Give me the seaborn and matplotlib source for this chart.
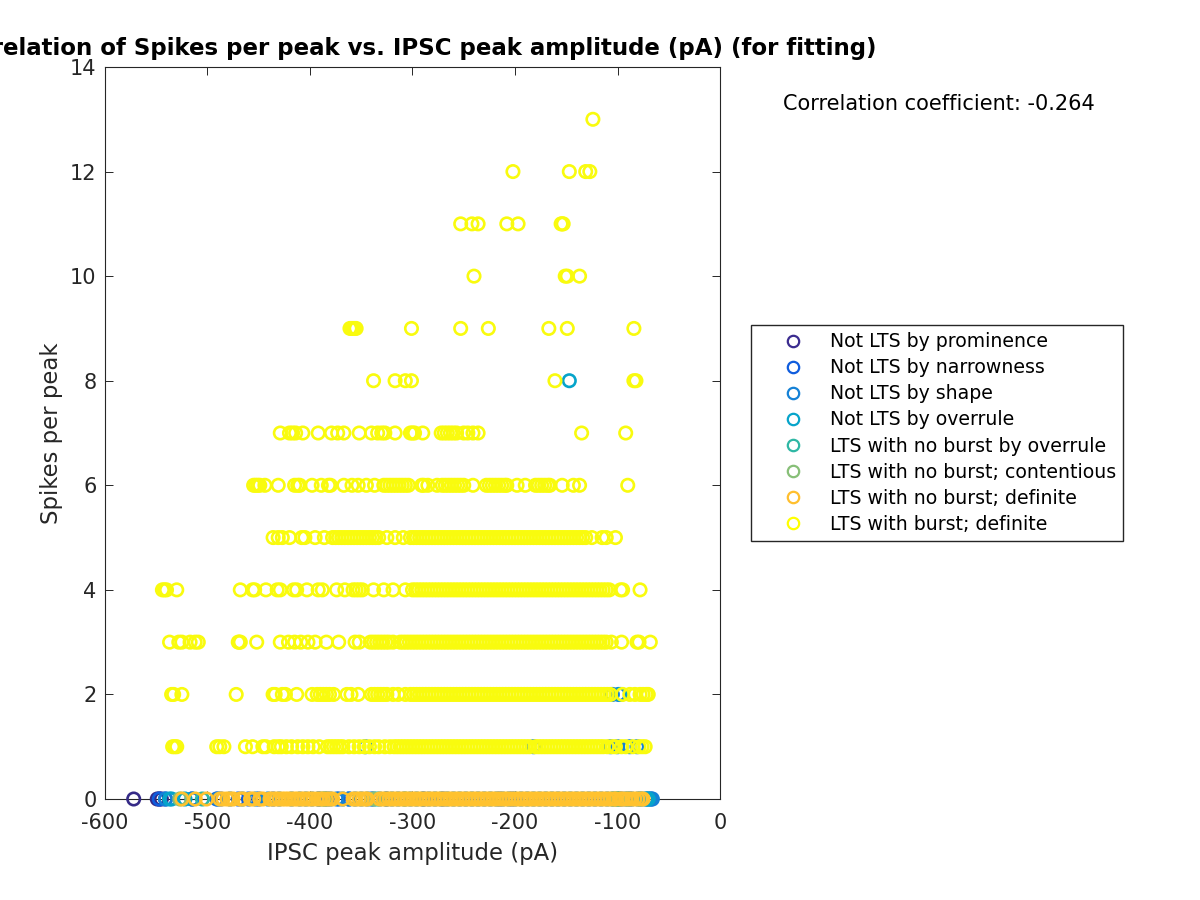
import pandas as pd
import matplotlib
matplotlib.use('Agg')
import matplotlib.pyplot as plt
import seaborn as sns

# Class names and colours (legend order, also the drawing order)
class_names = ['Not LTS by prominence', 'Not LTS by narrowness', 'Not LTS by shape', 'Not LTS by overrule',
               'LTS with no burst by overrule', 'LTS with no burst; contentious', 'LTS with no burst; definite',
               'LTS with burst; definite']
class_colors = ['#352A87', '#0F5CDD', '#1481D6', '#06A4CA', '#2EB7A4', '#87BF77', '#FFC22E', '#F9FB0E']
legend_colors = ['#3B2C8F', '#0F5CDD', '#1481D6', '#06A4CA', '#2EB7A4', '#87BF77', '#FFBF2E', '#FFFF00']

# Spikes = 0, the lower classes
prominence_x = [-572, -549, -547, -545]
narrowness_x = [-547, -541, -515, -491, -487, -470, -460, -450, -436, -391, -383, -372, -362, -340, -325, -289,
                -270, -215, -203, -100, -96, -88]
shape_x = [-541, -515, -490, -478, -466, -453, -441, -430, -418,
           -410, -404, -398, -392, -386, -380, -374, -368, -362, -356, -350, -344, -338, -332, -326, -320, -314,
           -308, -302, -296, -290, -284, -278, -272, -266, -260, -254, -248, -242, -236, -230, -224, -218, -212,
           -206, -200, -194, -188, -182, -176, -170, -164, -158, -152, -146, -140, -134, -128, -122, -116, -110,
           -104, -98, -92, -86, -80, -76, -72, -70, -68, -67, -66]
overrule_x = [-537, -535, -522, -105, -90, -78, -72, -70]
no_burst_overrule_x = [-505, -385, -335, -100]
contentious_x = [-527, -388, -338, -307, -101, -99]
definite_x = [-525, -512, -501, -488, -485, -481, -478, -475, -468, -465, -458, -455, -449, -446, -439, -436, -433,
              -430, -427, -424, -421, -418, -415, -412, -409, -406, -403, -400, -397, -393, -390, -387, -384,
              -381, -378, -368, -358, -355, -352, -349, -346, -344, -332, -329, -326, -323, -320, -317, -314,
              -311, -308, -305, -302, -299, -296, -293, -290, -287, -284, -281, -278, -275, -272, -269, -266,
              -263, -260, -257, -254, -251, -248, -245, -242, -239, -236, -233, -230, -227, -224, -221, -218,
              -215, -212, -209, -206, -203, -200, -197, -194, -191, -188, -185, -182, -179, -176, -173, -170,
              -167, -164, -161, -158, -155, -152, -149, -146, -143, -140, -137, -134, -131, -128, -125, -122,
              -119, -116, -113, -110, -107, -104, -102, -97, -95, -92, -89, -86, -83, -80, -77, -75]

# A few lower-class points above zero spikes
shape_spikes1_x = [-346, -182, -107, -100, -88, -81]
shape_spikes2_x = [-105, -99]
overrule_spikes2_x = [-97]
overrule_spikes8_x = [-147]

# LTS with burst, one list per spike count
burst_13 = [-124]
burst_12 = [-202, -147, -131, -127]
burst_11 = [-253, -242, -236, -208, -197, -155, -154, -153]
burst_10 = [-240, -151, -149, -137]
burst_9 = [-361, -359, -357, -355, -301, -253, -226, -167, -149, -84]
burst_8 = [-338, -317, -307, -301, -161, -84, -82]
burst_7 = [-429, -420, -417, -414, -407, -392, -379, -373, -367, -352, -340, -334, -330, -327, -317, -302, -300,
           -298, -290, -272, -269, -266, -263, -260, -257, -250, -246, -241, -236, -135, -92]
burst_6 = [-455, -453, -451, -449, -444, -431, -415, -412, -410, -398, -389, -382, -380, -367, -359, -353, -345,
           -337, -328, -325, -322, -319, -316, -313, -310, -307, -304, -291, -289, -285, -276, -271, -268, -265,
           -262, -259, -256, -253, -250, -241, -228, -225, -222, -219, -216, -213, -210, -208, -198, -190, -180,
           -177, -174, -171, -168, -166, -154, -143, -137, -90]
burst_5 = [-436, -431, -427, -420, -408, -405, -395, -386, -378, -375, -372, -369, -366, -363, -360, -357, -354,
           -351, -348, -345, -342, -339, -336, -333, -325, -317, -309, -302, -299, -296, -293, -290, -287, -284,
           -281, -278, -275, -272, -269, -266, -263, -260, -257, -254, -251, -248, -245, -242, -239, -236, -233,
           -230, -227, -224, -221, -218, -215, -212, -209, -206, -203, -200, -197, -194, -191, -188, -185, -182,
           -179, -176, -173, -170, -167, -164, -161, -158, -155, -152, -149, -146, -143, -140, -137, -134, -131,
           -125, -115, -111, -102]
burst_4 = [-544, -542, -540, -530, -468, -456, -454, -443, -432, -429, -416, -413, -403, -392, -388, -374, -366,
           -358, -355, -352, -349, -338, -328, -319, -307, -300, -297, -294, -291, -288, -285, -282, -279, -276,
           -273, -270, -267, -264, -261, -258, -255, -252, -249, -246, -243, -240, -237, -234, -231, -228, -225,
           -222, -219, -216, -213, -210, -207, -204, -201, -198, -195, -192, -189, -186, -183, -180, -177, -174,
           -171, -168, -165, -162, -159, -156, -153, -150, -147, -144, -141, -138, -135, -132, -129, -126, -123,
           -120, -117, -114, -111, -108, -97, -95, -78]
burst_3 = [-537, -528, -525, -517, -512, -509, -470, -469, -468, -452, -429, -421, -415, -409, -402, -395, -384,
           -372, -356, -352, -341, -338, -335, -332, -329, -326, -323, -319, -312, -309, -306, -303, -300, -297,
           -294, -291, -288, -285, -282, -279, -276, -273, -270, -267, -264, -261, -258, -255, -252, -249, -246,
           -243, -240, -237, -234, -231, -228, -225, -222, -219, -216, -213, -210, -207, -204, -201, -198, -195,
           -192, -189, -186, -183, -180, -177, -174, -171, -168, -165, -162, -159, -156, -153, -150, -147, -144,
           -141, -138, -135, -132, -129, -126, -123, -120, -117, -114, -111, -106, -96, -81, -79, -68]
burst_2 = [-535, -533, -525, -472, -436, -434, -427, -424, -413, -398, -393, -390, -387, -384, -381, -377, -364,
           -360, -353, -340, -337, -334, -331, -328, -325, -319, -314, -307, -302, -299, -296, -293, -290, -287,
           -284, -281, -278, -275, -272, -269, -266, -263, -260, -257, -254, -251, -248, -245, -242, -239, -236,
           -233, -230, -227, -224, -221, -218, -215, -212, -209, -206, -203, -200, -197, -194, -191, -188, -185,
           -182, -179, -176, -173, -170, -167, -164, -161, -158, -155, -152, -149, -146, -143, -140, -137, -134,
           -131, -128, -125, -122, -119, -116, -113, -110, -107, -95, -88, -83, -78, -75, -72, -70]
burst_1 = [-534, -532, -530, -491, -488, -484, -463, -456, -446, -443, -435, -431, -428, -423, -418, -412, -407,
           -402, -397, -391, -383, -380, -377, -374, -371, -368, -362, -357, -352, -347, -342, -337, -333, -327,
           -322, -318, -315, -312, -309, -306, -303, -300, -297, -294, -291, -288, -285, -282, -279, -276, -273,
           -270, -267, -264, -261, -258, -255, -252, -249, -246, -243, -240, -237, -234, -231, -228, -225, -222,
           -219, -216, -213, -210, -207, -204, -201, -198, -195, -192, -189, -186, -180, -177, -174, -171, -168,
           -165, -162, -159, -156, -153, -150, -147, -144, -141, -138, -135, -132, -129, -126, -123, -120, -117,
           -114, -110, -105, -102, -96, -92, -85, -79, -76, -73]

correlation_text = 'Correlation coefficient: -0.264'
title_text = 'Correlation of Spikes per peak vs. IPSC peak amplitude (pA) (for fitting)'
x_ticks = [-600, -500, -400, -300, -200, -100, 0]
y_ticks = [0, 2, 4, 6, 8, 10, 12, 14]

# Long table: class, amplitude, spikes
zero_lists = [prominence_x, narrowness_x, shape_x, overrule_x, no_burst_overrule_x, contentious_x, definite_x]
burst_lists = {1: burst_1, 2: burst_2, 3: burst_3, 4: burst_4, 5: burst_5, 6: burst_6, 7: burst_7,
               8: burst_8, 9: burst_9, 10: burst_10, 11: burst_11, 12: burst_12, 13: burst_13}
rows = []
for name, values in zip(class_names, zero_lists):
    rows += [(name, v, 0) for v in values]
rows += [(class_names[2], v, 1) for v in shape_spikes1_x]
rows += [(class_names[2], v, 2) for v in shape_spikes2_x]
rows += [(class_names[3], v, 2) for v in overrule_spikes2_x]
rows += [(class_names[3], v, 8) for v in overrule_spikes8_x]
for spikes, values in burst_lists.items():
    rows += [(class_names[7], v, spikes) for v in values]
df = pd.DataFrame(rows, columns=['cls', 'amp', 'spikes'])

sns.set_theme(style="ticks")
plt.rcParams['font.family'] = ['DejaVu Sans']
plt.rcParams['axes.unicode_minus'] = False

fig = plt.figure(figsize=(12, 9), dpi=100)
ax = fig.add_axes([105 / 1200, 1 - 799 / 900, 615 / 1200, 732 / 900])

# Open circles, class by class, later classes on top
for name, color in zip(class_names, class_colors):
    sub = df[df['cls'] == name]
    sns.scatterplot(data=sub, x='amp', y='spikes', ax=ax, s=80, marker='o', facecolor='none',
                    edgecolor=color, linewidth=1.9, clip_on=False, legend=False, zorder=3)

ax.set_xlim(-600, 0)
ax.set_ylim(0, 14)
ax.set_xticks(x_ticks)
ax.set_yticks(y_ticks)
ax.tick_params(direction='in', top=True, right=True, length=5.5, width=0.7, labelsize=15, color='#262626',
               labelcolor='#262626')
ax.tick_params(axis='x', pad=10)
ax.tick_params(axis='y', pad=6)
for side in ax.spines.values():
    side.set_linewidth(0.8)
    side.set_color('#262626')
ax.set_xlabel('IPSC peak amplitude (pA)', fontsize=16.4, color='#262626', labelpad=6.5)
ax.set_ylabel('Spikes per peak', fontsize=16.4, color='#262626', labelpad=5.5)
ax.set_title(title_text, fontsize=16.5, fontweight='bold', color='black', pad=9)

fig.text(783 / 1200, 1 - 104 / 900, correlation_text, fontsize=15, color='black', va='center', ha='left')

handles = [plt.Line2D([], [], linestyle='none', marker='o', markersize=8.2, markerfacecolor='none',
                      markeredgecolor=c, markeredgewidth=1.6, label=n)
           for n, c in zip(class_names, legend_colors)]
fig.legend(handles=handles, loc='upper left', bbox_to_anchor=(751 / 1200, 1 - 325 / 900), bbox_transform=fig.transFigure,
           fontsize=13.6, labelcolor='black', frameon=True, fancybox=False, framealpha=1, edgecolor='#262626',
           borderaxespad=0, borderpad=0.38, labelspacing=0.375, handletextpad=0.1, handlelength=3.7)

fig.savefig('out.png', dpi=100)
